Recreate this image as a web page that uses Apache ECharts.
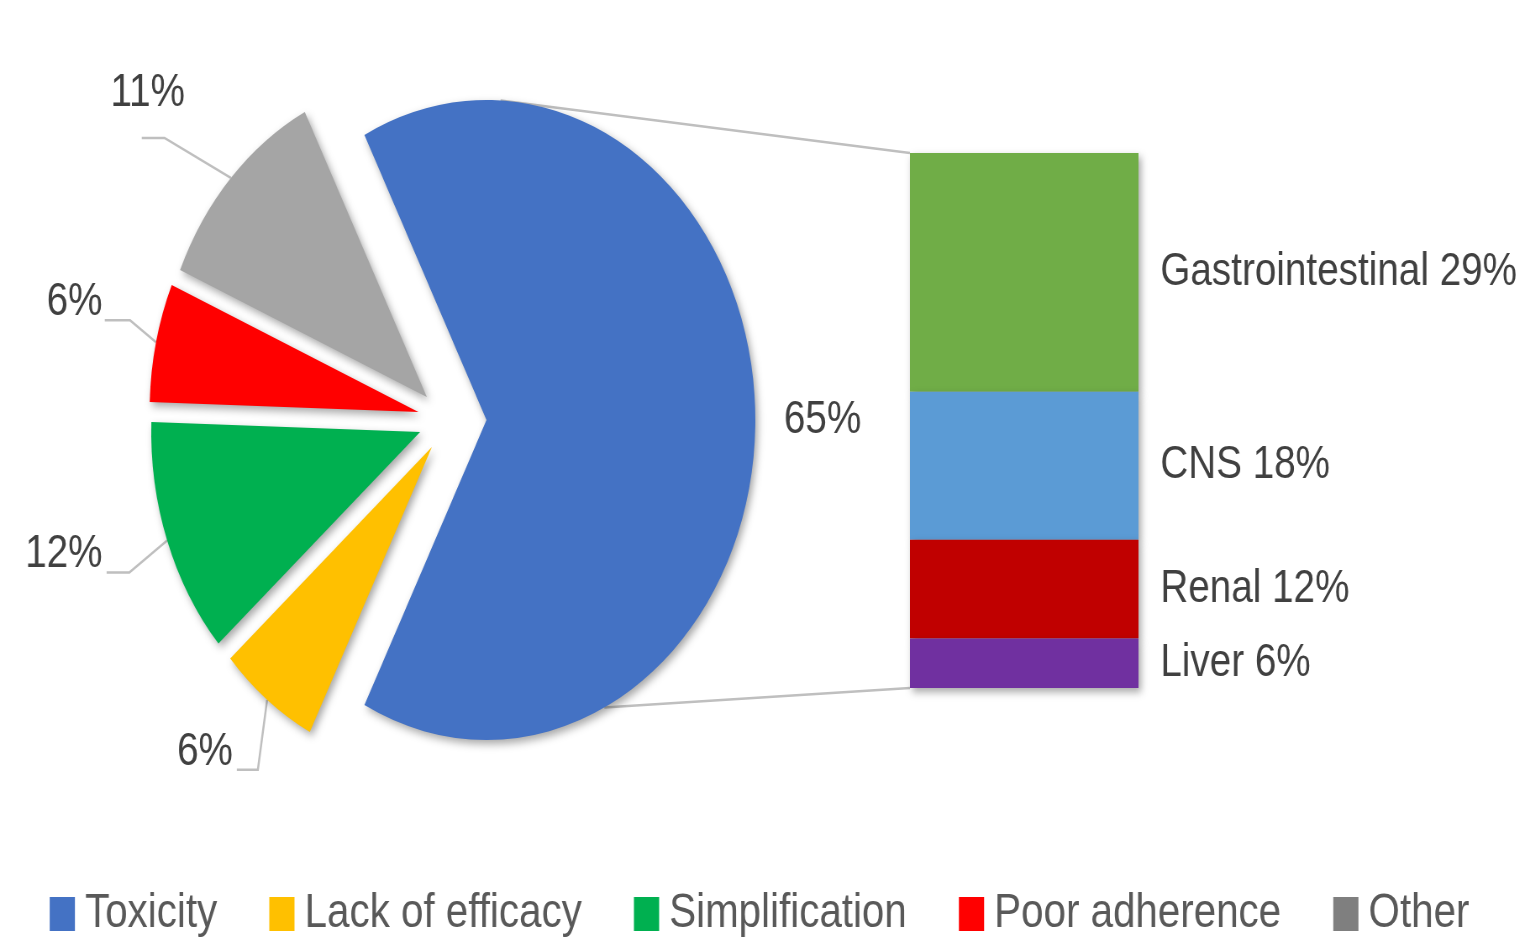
<!DOCTYPE html>
<html>
<head>
<meta charset="utf-8">
<title>Reasons for switching</title>
<script src="https://cdn.jsdelivr.net/npm/echarts@6/dist/echarts.min.js"></script>
<style>
  html, body { margin: 0; padding: 0; overflow: hidden; background: #ffffff; }
  /* the figure is drawn on a wider canvas and compressed horizontally */
  #chart { width: 1808px; height: 943px; transform: scaleX(0.8402); transform-origin: 0 0; }
</style>
</head>
<body>
<div id="chart"></div>
<script>
// ---- data ----
const reasons = ['Toxicity', 'Lack of efficacy', 'Simplification', 'Poor adherence', 'Other'];
const reasonShares = [65, 6, 12, 6, 11];
const toxicityTypes = ['Gastrointestinal', 'CNS', 'Renal', 'Liver'];
const toxicityShares = [29, 18, 12, 6];

// ---- styles / layout ----
const reasonColors = ['#4472C4', '#FFC000', '#00B050', '#FF0000', '#A5A5A5'];
const legendColors = ['#4472C4', '#FFC000', '#00B050', '#FF0000', '#7F7F7F'];
const toxicityColors = ['#70AD47', '#5B9BD5', '#C00000', '#7030A0'];
const FONT = '"Liberation Sans", Arial, sans-serif';
const LABEL_COLOR = '#404040';
const PIE_R = 320;
// each slice is pulled out of the pie on its own
const sliceCenters = [[579, 420], [514, 447], [500, 432], [498, 412], [508, 397]];
// callout geometry relative to the middle of each slice's outer arc
const callouts = [
  null,
  { line: [[-11, 70], [-36, 70]], text: [-74, 52] },
  { line: [[-45, 32], [-72, 32]], text: [-123, 14] },
  { line: [[-31, -22], [-61, -22]], text: [-97, -40] },
  { line: [[-79, -40], [-106, -40]], text: [-99, -85] }
];
const GRID = { left: 1083, width: 272, top: 153, bottom: 255 };
const LINE_GREY = '#BFBFBF';

const shadow = { shadowColor: 'rgba(0,0,0,0.35)', shadowBlur: 8, shadowOffsetX: 3, shadowOffsetY: 4 };

function sliceSeries(i) {
  return {
    type: 'pie',
    name: reasons[i],
    radius: PIE_R,
    center: sliceCenters[i],
    startAngle: 117,
    clockwise: true,
    silent: true,
    avoidLabelOverlap: false,
    emphasis: { disabled: true },
    label: {
      show: true,
      position: 'outside',
      formatter: '{c}%',
      fontFamily: FONT,
      fontSize: 46,
      color: LABEL_COLOR
    },
    labelLine: {
      show: true,
      length: 30,
      length2: 20,
      lineStyle: { color: LINE_GREY, width: 2.5 }
    },
    labelLayout: function (p) {
      if (p.dataIndex !== i) return {};
      if (i === 0) {
        return {
          x: p.rect.x + p.rect.width + 80,
          y: p.rect.y + p.rect.height / 2,
          align: 'center',
          verticalAlign: 'middle'
        };
      }
      const c = callouts[i];
      const p0 = p.labelLinePoints[0];
      return {
        x: p0[0] + c.text[0],
        y: p0[1] + c.text[1],
        align: 'center',
        verticalAlign: 'middle',
        labelLinePoints: [
          [p0[0], p0[1]],
          [p0[0] + c.line[0][0], p0[1] + c.line[0][1]],
          [p0[0] + c.line[1][0], p0[1] + c.line[1][1]]
        ]
      };
    },
    data: reasons.map(function (name, j) {
      const visible = j === i;
      return {
        name: name,
        value: reasonShares[j],
        itemStyle: visible ? Object.assign({ color: reasonColors[j] }, shadow) : { color: 'rgba(0,0,0,0)' },
        label: { show: visible },
        labelLine: { show: visible && j !== 0 }
      };
    })
  };
}

const barSeries = toxicityTypes.map(function (name, k) {
  return {
    type: 'bar',
    name: name,
    stack: 'toxicity',
    barWidth: '100%',
    silent: true,
    z: 2 + k,
    itemStyle: Object.assign({ color: toxicityColors[k] }, shadow),
    label: {
      show: true,
      position: 'right',
      distance: 26,
      formatter: function (p) { return p.seriesName + ' ' + p.value + '%'; },
      fontFamily: FONT,
      fontSize: 46,
      color: LABEL_COLOR
    },
    data: [toxicityShares[k]]
  };
}).reverse();

const chart = echarts.init(document.getElementById('chart'), null, { renderer: 'canvas' });

chart.setOption({
  backgroundColor: '#ffffff',
  animation: false,
  legend: {
    bottom: 0,
    left: 'center',
    icon: 'rect',
    itemWidth: 30,
    itemHeight: 34,
    itemGap: 62,
    textStyle: { fontFamily: FONT, fontSize: 48, color: '#595959', padding: [0, 0, 0, 7] },
    data: reasons.map(function (name, j) {
      return { name: name, itemStyle: { color: legendColors[j] } };
    })
  },
  grid: { left: GRID.left, width: GRID.width, top: GRID.top, bottom: GRID.bottom },
  xAxis: { type: 'category', data: ['Toxicity'], show: false },
  yAxis: {
    type: 'value',
    min: 0,
    max: toxicityShares.reduce(function (a, b) { return a + b; }, 0),
    show: false
  },
  series: reasons.map(function (_, i) { return sliceSeries(i); }).concat(barSeries)
});

// connector lines from the toxicity slice to the breakdown bar
function drawConnectors() {
  const lay = chart.getModel().getSeriesByIndex(0).getData().getItemLayout(0);
  const cx = lay.cx, cy = lay.cy, r = lay.r;
  const rad = function (d) { return d * Math.PI / 180; };
  const arcTop = [cx + r * Math.cos(rad(87)), cy - r * Math.sin(rad(87))];
  const arcBottom = [cx + r * Math.cos(rad(-64)), cy - r * Math.sin(rad(-64))];
  const total = toxicityShares.reduce(function (a, b) { return a + b; }, 0);
  const barCenterX = chart.convertToPixel({ xAxisIndex: 0 }, 0);
  const barLeft = barCenterX - GRID.width / 2;
  const yTop = chart.convertToPixel({ yAxisIndex: 0 }, total);
  const yBottom = chart.convertToPixel({ yAxisIndex: 0 }, 0);
  chart.setOption({
    graphic: [
      { type: 'line', z: 0, silent: true, shape: { x1: arcTop[0], y1: arcTop[1], x2: barLeft, y2: yTop },
        style: { stroke: LINE_GREY, lineWidth: 2.5 } },
      { type: 'line', z: 0, silent: true, shape: { x1: arcBottom[0], y1: arcBottom[1], x2: barLeft, y2: yBottom },
        style: { stroke: LINE_GREY, lineWidth: 2.5 } }
    ]
  });
}
drawConnectors();
</script>
</body>
</html>
